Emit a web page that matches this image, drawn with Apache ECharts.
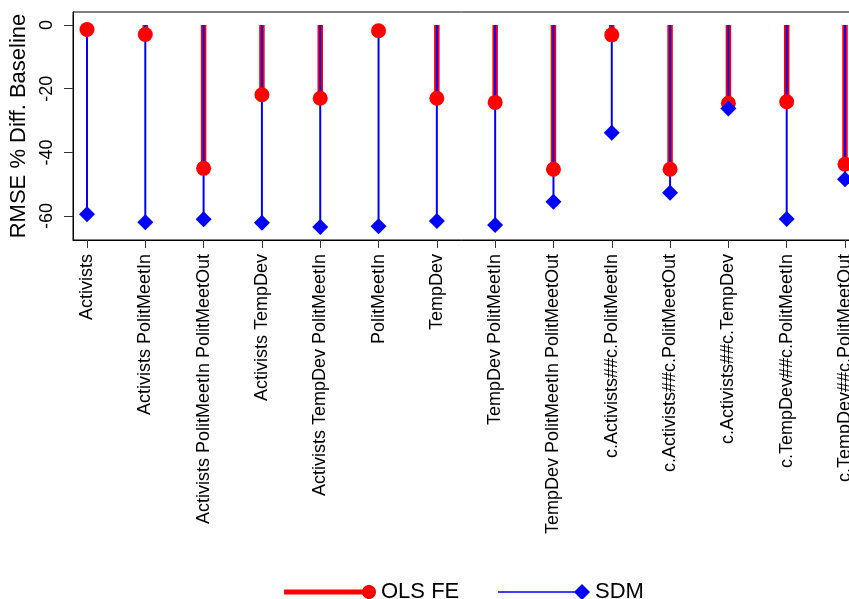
<!DOCTYPE html>
<html>
<head>
<meta charset="utf-8">
<style>html,body{margin:0;padding:0;background:#fff;}#main{width:849px;height:599px;}</style>
<script src="https://cdn.jsdelivr.net/npm/echarts@6/dist/echarts.min.js"></script>
</head>
<body>
<div id="main"></div>
<script>
const categories = [
  "Activists",
  "Activists PolitMeetIn",
  "Activists PolitMeetIn PolitMeetOut",
  "Activists TempDev",
  "Activists TempDev PolitMeetIn",
  "PolitMeetIn",
  "TempDev",
  "TempDev PolitMeetIn",
  "TempDev PolitMeetIn PolitMeetOut",
  "c.Activists##c.PolitMeetIn",
  "c.Activists##c.PolitMeetOut",
  "c.Activists##c.TempDev",
  "c.TempDev##c.PolitMeetIn",
  "c.TempDev##c.PolitMeetOut"
];
const olsFE = [-1.4, -3.0, -45.0, -21.9, -23.0, -1.8, -23.0, -24.3, -45.3, -3.1, -45.3, -24.6, -24.1, -43.7];
const sdm   = [-59.4, -61.9, -61.0, -62.1, -63.4, -63.2, -61.5, -62.8, -55.5, -33.8, -52.7, -26.2, -60.9, -48.4];
const yTicks = [0, -20, -40, -60];

const FONT = '"Liberation Sans", Arial, Helvetica, sans-serif';
const idx = categories.map((c, i) => i + 1);
const olsData = olsFE.map((v, i) => [idx[i], v]);
const sdmData = sdm.map((v, i) => [idx[i], v]);

function dropline(color, width) {
  return function (params, api) {
    const x = api.value(0), v = api.value(1);
    const p0 = api.coord([x, 0]);
    const p1 = api.coord([x, v]);
    return {
      type: 'line',
      shape: { x1: p0[0], y1: p0[1], x2: p1[0], y2: p1[1] },
      style: { stroke: color, lineWidth: width, lineCap: 'butt' }
    };
  };
}

// legend icon shapes (line + end marker)
function circlePath(cx, cy, r, n) {
  let s = '';
  for (let k = 0; k < n; k++) {
    const a = (k / n) * Math.PI * 2;
    s += (k === 0 ? 'M' : 'L') + (cx + r * Math.cos(a)).toFixed(2) + ',' + (cy + r * Math.sin(a)).toFixed(2);
  }
  return s + 'Z';
}
const redIcon = 'path://M0,4.5L80,4.5L80,9.5L0,9.5Z ' + circlePath(85, 7, 7, 36);
const blueIcon = 'path://M0,7.3L80,7.3L80,8.7L0,8.7Z M84,0L92,8L84,16L76,8Z';

const chart = echarts.init(document.getElementById('main'), null, { renderer: 'canvas' });
chart.setOption({
  backgroundColor: '#ffffff',
  animation: false,
  textStyle: { fontFamily: FONT, color: '#000' },
  grid: {
    left: 73, top: 12, right: -10, bottom: 359,
    show: true, borderColor: '#000', borderWidth: 1, backgroundColor: '#fff',
    containLabel: false, outerBoundsMode: 'none'
  },
  legend: [
    {
      left: 284, top: 581, padding: 0, itemWidth: 92, itemHeight: 14,
      selectedMode: false,
      textStyle: { fontSize: 22, color: '#000', fontFamily: FONT },
      data: [{ name: 'OLS FE', icon: redIcon, itemStyle: { color: '#ff0000' } }]
    },
    {
      left: 498, top: 581, padding: 0, itemWidth: 92, itemHeight: 16,
      selectedMode: false,
      textStyle: { fontSize: 22, color: '#000', fontFamily: FONT },
      data: [{ name: 'SDM', icon: blueIcon, itemStyle: { color: '#0000ff' } }]
    }
  ],
  xAxis: {
    type: 'value',
    min: 0.76, max: 14.24,
    splitLine: { show: false },
    axisLine: { show: true, onZero: false, lineStyle: { color: '#000', width: 1 } },
    axisTick: { show: true, length: 8, customValues: idx, lineStyle: { color: '#333' } },
    axisLabel: {
      show: true, rotate: 90, margin: 14, fontSize: 18, color: '#000', fontFamily: FONT,
      customValues: idx,
      formatter: v => categories[Math.round(v) - 1] || ''
    }
  },
  yAxis: {
    type: 'value',
    min: -67.5, max: 4.08,
    splitLine: { show: false },
    axisLine: { show: true, lineStyle: { color: '#000', width: 1 } },
    axisTick: { show: true, length: 9, customValues: yTicks, lineStyle: { color: '#333' } },
    axisLabel: {
      show: true, rotate: 90, margin: 17, fontSize: 18, color: '#000', fontFamily: FONT,
      customValues: yTicks
    },
    name: 'RMSE % Diff. Baseline',
    nameLocation: 'middle',
    nameRotate: 90,
    nameGap: 42,
    nameTextStyle: { fontSize: 22, color: '#000', fontFamily: FONT }
  },
  series: [
    {
      name: 'OLS FE', type: 'custom', data: olsData, renderItem: dropline('#ff0000', 5.5),
      itemStyle: { color: '#ff0000' }, silent: true
    },
    {
      name: 'OLS FE', type: 'scatter', data: olsData, symbol: 'circle', symbolSize: 15,
      itemStyle: { color: '#ff0000', opacity: 1 }, silent: true
    },
    {
      name: 'SDM', type: 'custom', data: sdmData, renderItem: dropline('#0000ff', 2),
      itemStyle: { color: '#0000ff' }, silent: true
    },
    {
      name: 'SDM', type: 'scatter', data: sdmData, symbol: 'diamond', symbolSize: 16,
      itemStyle: { color: '#0000ff', opacity: 1 }, silent: true
    }
  ]
});
</script>
</body>
</html>
